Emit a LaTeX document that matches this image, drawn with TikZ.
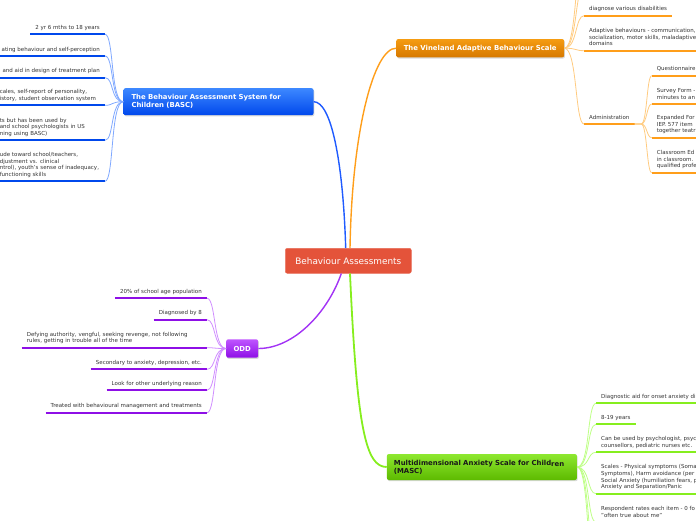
\documentclass[tikz,border=0pt]{standalone}
\usepackage{fontspec}
\setmainfont{DejaVu Sans}
\usetikzlibrary{shadows}

\definecolor{rootred}{HTML}{E4533A}
\definecolor{leafgray}{HTML}{333333}
\definecolor{bascdark}{HTML}{0048EC}
\definecolor{basclight}{HTML}{3D88FF}
\definecolor{bascline}{HTML}{1F5BFF}
\definecolor{bascthin}{HTML}{7FA8FF}
\definecolor{vindark}{HTML}{D67800}
\definecolor{vinlight}{HTML}{F59C12}
\definecolor{vinline}{HTML}{FF9E1A}
\definecolor{vinthin}{HTML}{FFCB80}
\definecolor{odddark}{HTML}{8E0FE6}
\definecolor{oddlight}{HTML}{BF55FF}
\definecolor{oddline}{HTML}{A233F5}
\definecolor{oddthin}{HTML}{D08EFF}
\definecolor{mascdark}{HTML}{5DBA00}
\definecolor{masclight}{HTML}{8EE830}
\definecolor{mascline}{HTML}{86EE1E}
\definecolor{mascthin}{HTML}{BEFF86}

\newcommand\leaffont{\fontsize{5.5}{6.7}\selectfont}
\newcommand\branchfont{\fontsize{6.9}{7.8}\selectfont\bfseries}

\tikzset{
  rootbox/.style={draw=rootred!85!white, fill=rootred, rounded corners=2pt, text=white,
    font=\fontsize{8.9}{10}\selectfont, inner xsep=10pt, minimum height=25pt},
  branch/.style={rounded corners=2pt, font=\branchfont, text=white, align=left,
    drop shadow={opacity=0.3, shadow xshift=0.8pt, shadow yshift=-1.2pt}},
  leaf/.style={inner xsep=5pt, inner ysep=3pt, font=\leaffont, text=leafgray, align=left,
    execute at end node={\rule[-1.6pt]{0pt}{1pt}}},
  bascbar/.style={draw=bascdark, line width=2.3pt},
  vinbar/.style={draw=vinline, line width=2.3pt},
  oddbar/.style={draw=odddark, line width=2.3pt},
  mascbar/.style={draw=mascline, line width=2.3pt},
  basclink/.style={draw=bascthin, line width=0.8pt},
  vinlink/.style={draw=vinthin, line width=0.8pt},
  oddlink/.style={draw=oddthin, line width=0.8pt},
  masclink/.style={draw=mascthin, line width=0.8pt},
}

\begin{document}
\begin{tikzpicture}[x=1pt, y=-1pt]
  \useasboundingbox (0,0) rectangle (696,520);
  \clip (0,0) rectangle (696,520);
  \coordinate (ledge) at (-5,0);
  \coordinate (redge) at (701,0);

  % Centre and main branches
  \node[rootbox] (root) at (348.3,260.8) {Behaviour Assessments};
  \node[branch, top color=basclight, bottom color=bascdark, text width=174pt, inner xsep=8pt,
    minimum height=27pt, anchor=west] (basc) at (123.3,101.7)
    {The Behaviour Assessment System for\\Children (BASC)};
  \node[branch, top color=vinlight, bottom color=vindark, inner xsep=7.5pt,
    minimum height=18.3pt] (vin) at (480.2,48.2) {The Vineland Adaptive Behaviour Scale};
  \node[branch, top color=oddlight, bottom color=odddark, inner xsep=7.3pt,
    minimum height=18.4pt] (odd) at (242.2,348.5) {ODD};
  \node[branch, top color=masclight, bottom color=mascdark, text=black!90, text width=176pt,
    inner xsep=7pt, minimum height=26pt, anchor=west] (masc) at (386.7,467)
    {Multidimensional Anxiety Scale for Child\raisebox{-1.3pt}{ren}\\(MASC)};

  \draw[bascline, line width=1.4pt] ([xshift=-2.6pt]root.north) .. controls (343,160) and (331,101.7) .. (basc.east);
  \draw[vinline, line width=1.4pt] ([xshift=1.7pt]root.north) .. controls (352,130) and (374,48.2) .. (vin.west);
  \draw[oddline, line width=1.4pt] ([xshift=-7pt]root.south) .. controls (328,312) and (294,348.5) .. (odd.east);
  \draw[mascline, line width=1.8pt] ([xshift=1.7pt]root.south) .. controls (357,430) and (366,467) .. (masc.west);

  % BASC leaves
  \node[leaf, anchor=south east] (b1) at (105,34.3) {2 yr 6 mths to 18 years};
  \node[leaf, anchor=south east] (b2) at (105,56) {ating behaviour and self-perception};
  \node[leaf, anchor=south east] (b3) at (105,77.7) {and aid in design of treatment plan};
  \node[leaf, anchor=south east, text width=100pt] (b4) at (105,105.3)
    {cales, self-report of personality,\\istory, student observation system};
  \node[leaf, anchor=south east, text width=100pt] (b5) at (105,140.3)
    {ts but has been used by\\and school psychologists in US\\ning using BASC)};
  \node[leaf, anchor=south east, text width=100pt] (b6) at (105,181.3)
    {ude toward school/teachers,\\djustment vs. clinical\\ntrol), youth's sense of inadequacy,\\functioning skills};
  \draw[bascbar] (b1.south west) -- (b1.south east);
  \foreach \n in {b2,b3,b4,b5,b6}
    \draw[bascbar] (\n.south east -| ledge) -- (\n.south east);
  \foreach \n in {b1,b2,b3,b4,b5,b6}
    \draw[basclink] (basc.west) .. controls +(-13,0) and +(9,0) .. (\n.south east);

  % Vineland leaves
  \coordinate (vup1) at (584,-14);
  \coordinate (vup2) at (584,-48);
  \node[leaf, anchor=south west] (v1) at (584,15.7) {diagnose various disabilities};
  \node[leaf, anchor=south west] (v2) at (584,50.7)
    {Adaptive behaviours - communication,\\socialization, motor skills, maladaptive\\domains};
  \node[leaf, anchor=south west] (adm) at (584,124) {Administration};
  \draw[vinbar] (v1.south west) -- (v1.south east);
  \draw[vinbar] (v2.south west) -- (v2.south west -| redge);
  \draw[vinbar] (adm.south west) -- (adm.south east);
  \foreach \n in {vup1,vup2}
    \draw[vinlink] (vin.east) .. controls +(13,0) and +(-9,0) .. (\n);
  \foreach \n in {v1.south west,v2.south west,adm.south west}
    \draw[vinlink] (vin.east) .. controls +(13,0) and +(-9,0) .. (\n);

  \node[leaf, anchor=south west] (a1) at (651.7,75.7) {Questionnaire};
  \node[leaf, anchor=south west] (a2) at (651.7,104) {Survey Form -\\minutes to an};
  \node[leaf, anchor=south west] (a3) at (651.7,137.7) {Expanded For\\IEP. 577 item\\together teatr};
  \node[leaf, anchor=south west] (a4) at (651.7,172.7) {Classroom Ed\\in classroom.\\qualified profe};
  \foreach \n in {a1,a2,a3,a4} {
    \draw[vinbar] (\n.south west) -- (\n.south west -| redge);
    \draw[vinlink] (adm.south east) -- ++(6.5,0) .. controls +(6,0) and +(-5,0) .. (\n.south west);
  }

  % ODD leaves
  \node[leaf, anchor=south east] (o1) at (207,298.3) {20\% of school age population};
  \node[leaf, anchor=south east] (o2) at (207,319.7) {Diagnosed by 8};
  \node[leaf, anchor=south east, text width=175pt] (o3) at (207,347.7)
    {Defying authority, vengful, seeking revenge, not following\\rules, getting in trouble all of the time};
  \node[leaf, anchor=south east] (o4) at (207,369.3) {Secondary to anxiety, depression, etc.};
  \node[leaf, anchor=south east] (o5) at (207,390.3) {Look for other underlying reason};
  \node[leaf, anchor=south east] (o6) at (207,412.7) {Treated with behavioural management and treatments};
  \foreach \n in {o1,o2,o3,o4,o5,o6} {
    \draw[oddbar] (\n.south west) -- (\n.south east);
    \draw[oddlink] (odd.west) .. controls +(-13,0) and +(9,0) .. (\n.south east);
  }

  % MASC leaves
  \coordinate (mdown1) at (596,556);
  \coordinate (mdown2) at (596,590);
  \node[leaf, anchor=south west] (m1) at (596,403.3) {Diagnostic aid for onset anxiety di};
  \node[leaf, anchor=south west] (m2) at (596,424.3) {8-19 years};
  \node[leaf, anchor=south west] (m3) at (596,452.3)
    {Can be used by psychologist, psyc\\counsellors, pediatric nurses etc.};
  \node[leaf, anchor=south west] (m4) at (596,493.7)
    {Scales - Physical symptoms (Soma\\Symptoms), Harm avoidance (per\\Social Anxiety (humiliation fears, p\\Anxiety and Separation/Panic};
  \node[leaf, anchor=south west] (m5) at (596,522)
    {Respondent rates each item - 0 fo\\"often true about me"};
  \draw[mascbar] (m2.south west) -- (m2.south east);
  \foreach \n in {m1,m3,m4,m5}
    \draw[mascbar] (\n.south west) -- (\n.south west -| redge);
  \foreach \n in {m1,m2,m3,m4,m5}
    \draw[masclink] (masc.east) .. controls +(13,0) and +(-9,0) .. (\n.south west);
  \foreach \n in {mdown1,mdown2}
    \draw[masclink] (masc.east) .. controls +(13,0) and +(-9,0) .. (\n);
\end{tikzpicture}
\end{document}
